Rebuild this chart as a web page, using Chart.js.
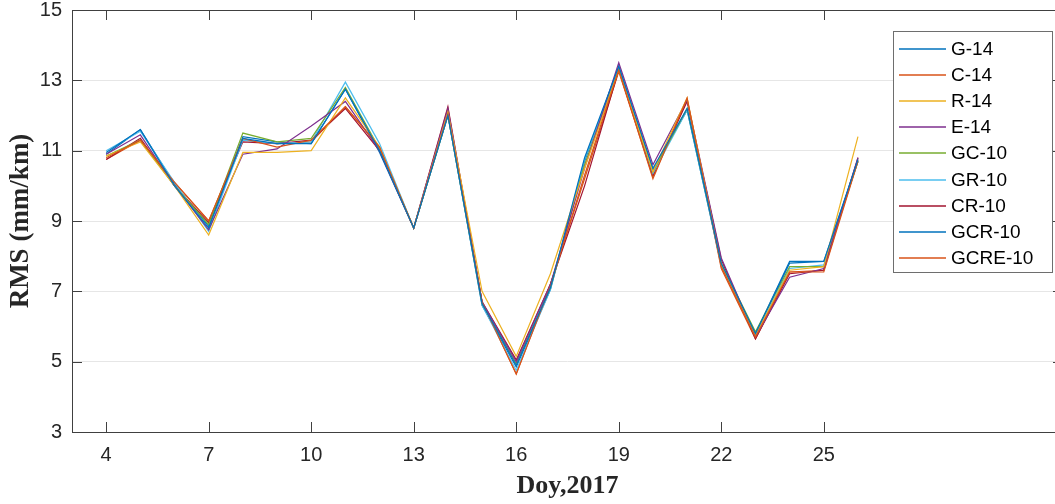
<!DOCTYPE html>
<html>
<head>
<meta charset="utf-8">
<script src="https://cdn.jsdelivr.net/npm/chart.js@4"></script>
<style>
  html, body { margin: 0; padding: 0; background: #fff; overflow: hidden; }
  #wrap { width: 1064px; height: 504px; }
</style>
</head>
<body>
<div id="wrap"><canvas id="rms" width="1064" height="504"></canvas></div>
<script>
// day of year 2017
const days = [4, 5, 6, 7, 8, 9, 10, 11, 12, 13, 14, 15, 16, 17, 18, 19, 20, 21, 22, 23, 24, 25, 26];
const xTicks = [4, 7, 10, 13, 16, 19, 22, 25];
const yTicks = [3, 5, 7, 9, 11, 13, 15];

const seriesNames = ['G-14', 'C-14', 'R-14', 'E-14', 'GC-10', 'GR-10', 'CR-10', 'GCR-10', 'GCRE-10'];
const seriesColors = ['#0072BD', '#D95319', '#EDB120', '#7E2F8E', '#77AC30', '#4DBEEE', '#A2142F', '#0072BD', '#D95319'];

const g14    = [10.95, 11.6, 10.0, 8.8, 11.35, 11.2, 11.2, 12.75, 11.0, 8.8, 12.0, 6.65, 4.9, 7.1, 10.8, 13.4, 10.5, 12.2, 7.8, 5.8, 7.8, 7.85, 10.75];
const c14    = [10.8, 11.3, 10.1, 9.0, 11.35, 11.1, 11.3, 12.25, 11.1, 8.8, 12.05, 6.7, 4.65, 7.15, 10.3, 13.3, 10.2, 12.5, 7.7, 5.7, 7.55, 7.55, 10.7];
const r14    = [10.85, 11.25, 10.0, 8.6, 10.95, 10.95, 11.0, 12.5, 11.1, 8.8, 12.1, 7.0, 5.15, 7.5, 10.5, 13.3, 10.4, 12.5, 7.75, 5.75, 7.6, 7.7, 11.4];
const e14    = [10.9, 11.45, 10.0, 8.75, 10.9, 11.05, 11.7, 12.4, 11.0, 8.8, 12.2, 6.7, 5.0, 7.2, 10.5, 13.5, 10.6, 12.45, 7.95, 5.7, 7.4, 7.65, 10.8];
const gc10   = [10.85, 11.3, 10.0, 8.9, 11.5, 11.25, 11.35, 12.8, 11.05, 8.8, 12.0, 6.65, 4.95, 7.1, 10.6, 13.3, 10.4, 12.2, 7.8, 5.85, 7.7, 7.7, 10.7];
const gr10   = [11.0, 11.55, 10.1, 8.7, 11.3, 11.2, 11.25, 12.95, 11.2, 8.8, 12.0, 6.6, 4.75, 7.05, 10.75, 13.35, 10.35, 12.15, 7.75, 5.75, 7.65, 7.75, 10.7];
const cr10   = [10.75, 11.35, 10.0, 8.95, 11.25, 11.2, 11.3, 12.2, 11.0, 8.8, 12.25, 6.7, 5.05, 7.2, 10.0, 13.3, 10.3, 12.4, 7.9, 5.65, 7.5, 7.6, 10.8];
const gcr10  = [10.9, 11.6, 10.05, 8.85, 11.4, 11.25, 11.2, 12.75, 10.95, 8.8, 12.0, 6.6, 4.85, 7.05, 10.7, 13.4, 10.45, 12.15, 7.75, 5.8, 7.85, 7.85, 10.7];
const gcre10 = [10.75, 11.3, 10.1, 9.0, 11.3, 11.2, 11.25, 12.25, 11.1, 8.8, 12.1, 6.7, 4.65, 7.2, 10.2, 13.25, 10.25, 12.45, 7.65, 5.65, 7.55, 7.6, 10.75];

const seriesValues = [g14, c14, r14, e14, gc10, gr10, cr10, gcr10, gcre10];

const axisColor = '#404040';
const tickFont = { family: '"Liberation Sans", Arial, sans-serif', size: 20 };
const titleFont = { family: '"Liberation Serif", "Times New Roman", serif', size: 26, weight: 'bold' };

// matlab style box with inward ticks
const frame = {
  id: 'frame',
  afterDatasetsDraw(chart) {
    const { ctx, chartArea: a, scales } = chart;
    const len = 10;
    ctx.save();
    ctx.strokeStyle = axisColor;
    ctx.lineWidth = 1;
    ctx.beginPath();
    xTicks.forEach(v => {
      const x = Math.round(scales.x.getPixelForValue(v)) + 0.5;
      ctx.moveTo(x, a.bottom); ctx.lineTo(x, a.bottom - len);
      ctx.moveTo(x, a.top); ctx.lineTo(x, a.top + len);
    });
    yTicks.forEach(v => {
      const y = Math.round(scales.y.getPixelForValue(v)) + 0.5;
      ctx.moveTo(a.left, y); ctx.lineTo(a.left + len, y);
      ctx.moveTo(a.right, y); ctx.lineTo(a.right - len, y);
    });
    ctx.stroke();
    ctx.strokeRect(Math.round(a.left) + 0.5, Math.round(a.top) + 0.5, Math.round(a.right - a.left), Math.round(a.bottom - a.top));
    ctx.restore();
  }
};

// legend box in the top right corner, inside the axes
const boxLegend = {
  id: 'boxLegend',
  afterDraw(chart) {
    const { ctx } = chart;
    const left = 893, top = 31, w = 159, h = 241, row = 26.1;
    ctx.save();
    ctx.fillStyle = '#fff';
    ctx.fillRect(left, top, w, h);
    ctx.strokeStyle = '#6e6e6e';
    ctx.lineWidth = 1;
    ctx.strokeRect(left + 0.5, top + 0.5, w, h);
    ctx.font = '19px "Liberation Sans", Arial, sans-serif';
    ctx.textBaseline = 'middle';
    chart.data.datasets.forEach((ds, i) => {
      const y = Math.round(top + 18 + i * row);
      ctx.strokeStyle = ds.borderColor;
      ctx.lineWidth = 1.6;
      ctx.beginPath();
      ctx.moveTo(899, y); ctx.lineTo(946, y);
      ctx.stroke();
      ctx.fillStyle = '#000';
      ctx.fillText(ds.label, 951, y + 1);
    });
    ctx.restore();
  }
};

new Chart(document.getElementById('rms'), {
  type: 'line',
  data: {
    datasets: seriesNames.map((name, i) => ({
      label: name,
      data: days.map((d, j) => ({ x: d, y: seriesValues[i][j] })),
      borderColor: seriesColors[i],
      backgroundColor: seriesColors[i],
      borderWidth: 1.2,
      pointRadius: 0,
      tension: 0,
      fill: false
    }))
  },
  options: {
    responsive: false,
    animation: false,
    layout: { padding: { top: 10, right: 1, left: 0, bottom: 0 } },
    plugins: {
      legend: { display: false },
      tooltip: { enabled: false }
    },
    scales: {
      x: {
        type: 'linear',
        min: 3,
        max: 32,
        afterBuildTicks: s => { s.ticks = xTicks.map(v => ({ value: v })); },
        afterFit: s => { s.height = 72; s.paddingLeft = 0; s.paddingRight = 0; },
        grid: { display: false, drawTicks: false },
        border: { display: false },
        ticks: { font: tickFont, color: '#262626', padding: 11, maxRotation: 0, autoSkip: false },
        title: { display: true, text: 'Doy,2017', font: titleFont, color: '#262626', padding: { top: 0, bottom: 2 } }
      },
      y: {
        min: 3,
        max: 15,
        afterBuildTicks: s => { s.ticks = yTicks.map(v => ({ value: v })); },
        afterFit: s => { s.width = 72; s.paddingTop = 0; s.paddingBottom = 0; },
        grid: { color: '#e6e6e6', drawTicks: false, lineWidth: 1 },
        border: { display: false },
        ticks: { font: tickFont, color: '#262626', padding: 10 },
        title: { display: true, text: 'RMS (mm/km)', font: { ...titleFont, size: 27 }, color: '#262626', padding: { top: 5, bottom: 0 } }
      }
    }
  },
  plugins: [frame, boxLegend]
});
</script>
</body>
</html>
